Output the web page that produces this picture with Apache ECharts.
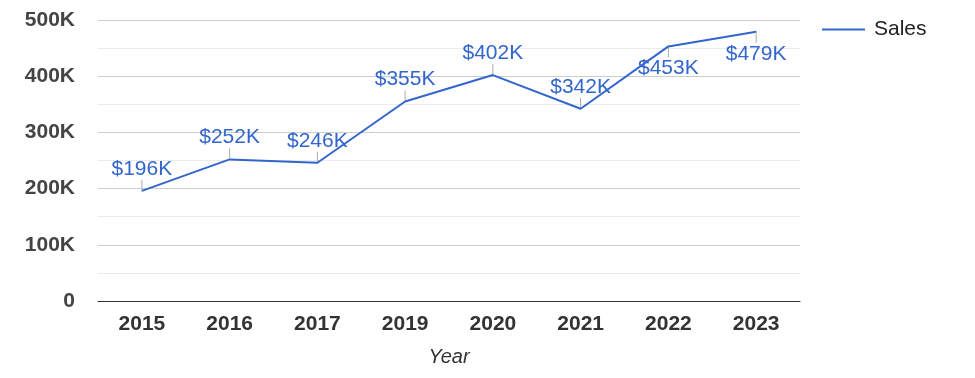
<!DOCTYPE html>
<html>
<head>
<meta charset="utf-8">
<script src="https://cdn.jsdelivr.net/npm/echarts@6/dist/echarts.min.js"></script>
<style>
    html, body { margin: 0; padding: 0; background: #fff; }
    #chart { width: 975px; height: 378px; }
</style>
</head>
<body>
<div id="chart"></div>
<script>
var years = ['2015', '2016', '2017', '2019', '2020', '2021', '2022', '2023'];
var sales = [196000, 252000, 246000, 355000, 402000, 342000, 453000, 479000];
var yTicks = [0, 100000, 200000, 300000, 400000, 500000];

var FONT = 'Arial, "Liberation Sans", sans-serif';
var BLUE = '#3366cc';
// labels that sit under the point instead of above it
var below = { 6: true, 7: true };

function money(v) {
    return '$' + Math.round(v / 1000) + 'K';
}

function initChart() {
    var chart = echarts.init(document.getElementById('chart'));
    var option = {
        animation: false,
        grid: { left: 98, right: 175, top: 20, bottom: 77 },
        legend: {
            data: ['Sales'],
            left: 822,
            top: 19,
            padding: 0,
            icon: 'rect',
            itemWidth: 43,
            itemHeight: 2,
            itemGap: 9,
            textStyle: { fontFamily: FONT, fontSize: 21, color: '#222', padding: [0, 0, 0, 4] }
        },
        xAxis: {
            type: 'category',
            data: years,
            name: 'Year',
            nameLocation: 'middle',
            nameGap: 46,
            nameTextStyle: { fontFamily: FONT, fontSize: 20, fontStyle: 'italic', color: '#333' },
            axisLine: { lineStyle: { color: '#333', width: 1 } },
            axisTick: { show: false },
            axisLabel: { fontFamily: FONT, fontSize: 21, fontWeight: 'bold', color: '#333', margin: 13 }
        },
        yAxis: {
            type: 'value',
            min: yTicks[0],
            max: yTicks[yTicks.length - 1],
            interval: yTicks[1] - yTicks[0],
            axisLine: { show: false },
            axisTick: { show: false },
            axisLabel: {
                fontFamily: FONT, fontSize: 21, fontWeight: 'bold', color: '#444', margin: 23,
                formatter: function (v) { return v === 0 ? '0' : (v / 1000) + 'K'; }
            },
            splitLine: { lineStyle: { color: '#cccccc' } },
            minorTick: { show: false, splitNumber: 2 },
            minorSplitLine: { show: true, lineStyle: { color: '#ebebeb' } }
        },
        series: [
            {
                name: 'Sales',
                type: 'line',
                data: sales.map(function (v, i) {
                    return {
                        value: v,
                        label: { position: below[i] ? 'bottom' : 'top' }
                    };
                }),
                symbol: 'circle',
                symbolSize: 1,
                itemStyle: { color: BLUE },
                lineStyle: { color: BLUE, width: 2 },
                label: {
                    show: true,
                    distance: 11,
                    fontFamily: FONT,
                    fontSize: 21,
                    color: BLUE,
                    formatter: function (p) { return money(p.value); }
                },
                z: 3
            },
            {
                name: 'leaders',
                type: 'custom',
                data: sales.map(function (v, i) { return [i, v]; }),
                renderItem: function (params, api) {
                    var p = api.coord([api.value(0), api.value(1)]);
                    var dir = below[params.dataIndex] ? 1 : -1;
                    return {
                        type: 'line',
                        shape: { x1: p[0], y1: p[1] + dir * 1, x2: p[0], y2: p[1] + dir * 11 },
                        style: { stroke: '#aaaaaa', lineWidth: 1 }
                    };
                },
                silent: true,
                z: 2
            }
        ]
    };
    chart.setOption(option);
    return chart;
}

initChart();
</script>
</body>
</html>
